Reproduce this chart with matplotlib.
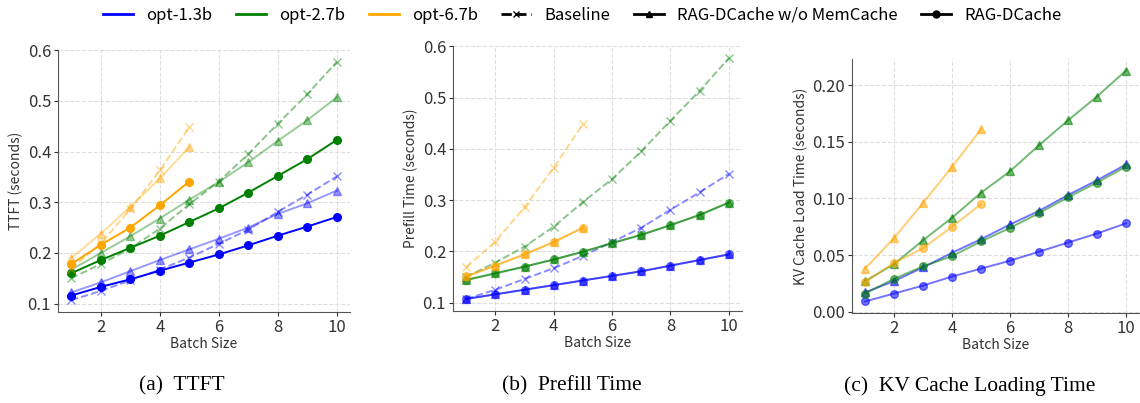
import matplotlib.pyplot as plt
from matplotlib.lines import Line2D

plt.rcParams['font.family'] = ['Noto Sans CJK KR', 'DejaVu Sans']

batch = [1, 2, 3, 4, 5, 6, 7, 8, 9, 10]
models = ["opt-1.3b", "opt-2.7b", "opt-6.7b"]
colors = ["blue", "green", "orange"]

# TTFT (seconds)
ttft_dcache = {
    "opt-1.3b": [0.116, 0.133, 0.148, 0.165, 0.181, 0.197, 0.215, 0.234, 0.252, 0.271],
    "opt-2.7b": [0.160, 0.186, 0.210, 0.234, 0.261, 0.288, 0.319, 0.352, 0.385, 0.423],
    "opt-6.7b": [0.178, 0.216, 0.250, 0.294, 0.341],
}
ttft_nomem = {
    "opt-1.3b": [0.122, 0.142, 0.164, 0.186, 0.207, 0.228, 0.250, 0.277, 0.298, 0.323],
    "opt-2.7b": [0.167, 0.200, 0.233, 0.268, 0.305, 0.340, 0.379, 0.421, 0.462, 0.507],
    "opt-6.7b": [0.190, 0.238, 0.291, 0.347, 0.409],
}
baseline = {
    "opt-1.3b": [0.107, 0.125, 0.146, 0.167, 0.191, 0.218, 0.246, 0.281, 0.315, 0.351],
    "opt-2.7b": [0.150, 0.178, 0.209, 0.248, 0.296, 0.341, 0.395, 0.455, 0.513, 0.577],
    "opt-6.7b": [0.169, 0.219, 0.286, 0.363, 0.448],
}

# Prefill time (seconds), same with and without MemCache
prefill = {
    "opt-1.3b": [0.107, 0.116, 0.125, 0.134, 0.143, 0.152, 0.161, 0.172, 0.183, 0.194],
    "opt-2.7b": [0.144, 0.157, 0.170, 0.184, 0.199, 0.216, 0.232, 0.251, 0.271, 0.295],
    "opt-6.7b": [0.151, 0.172, 0.194, 0.218, 0.246],
}

# KV cache load time (seconds)
kv_dcache = {
    "opt-1.3b": [0.009, 0.016, 0.023, 0.031, 0.038, 0.045, 0.053, 0.061, 0.069, 0.078],
    "opt-2.7b": [0.016, 0.029, 0.040, 0.049, 0.062, 0.074, 0.087, 0.101, 0.114, 0.128],
    "opt-6.7b": [0.026, 0.043, 0.056, 0.075, 0.095],
}
kv_nomem = {
    "opt-1.3b": [0.017, 0.027, 0.039, 0.052, 0.064, 0.077, 0.089, 0.103, 0.116, 0.130],
    "opt-2.7b": [0.027, 0.042, 0.063, 0.083, 0.105, 0.124, 0.147, 0.169, 0.190, 0.213],
    "opt-6.7b": [0.038, 0.065, 0.096, 0.128, 0.161],
}

W, H = 1140, 403
fig = plt.figure(figsize=(W / 100, H / 100), dpi=100)


def px_axes(left, top, right, bottom):
    return fig.add_axes([left / W, 1 - bottom / H, (right - left) / W, (bottom - top) / H])


def style(ax, ylabel):
    for s in ["top", "right"]:
        ax.spines[s].set_visible(False)
    for s in ["left", "bottom"]:
        ax.spines[s].set_color("#555555")
    ax.grid(True, linestyle="--", color="#dddddd", linewidth=0.8)
    ax.set_axisbelow(True)
    ax.set_xticks([2, 4, 6, 8, 10])
    ax.tick_params(labelsize=12, colors="#333333", length=3, pad=2)
    ax.set_xlabel("Batch Size", fontsize=10, color="#333333", labelpad=1)
    ax.set_ylabel(ylabel, fontsize=10, color="#333333", labelpad=3)


lw = 1.4
ms = 5.5

# (a) TTFT
ax1 = px_axes(58, 50, 350, 312)
for m, c in zip(models, colors):
    x = batch[:len(ttft_dcache[m])]
    ax1.plot(x, baseline[m], "--x", color=c, alpha=0.45, lw=lw, ms=ms)
    ax1.plot(x, ttft_nomem[m], "-^", color=c, alpha=0.4, lw=lw, ms=ms)
    ax1.plot(x, ttft_dcache[m], "-o", color=c, alpha=1.0, lw=lw, ms=ms)
ax1.set_yticks([0.1, 0.2, 0.3, 0.4, 0.5, 0.6])
style(ax1, "TTFT (seconds)")

# (b) Prefill time
ax2 = px_axes(453, 46, 742, 311)
for m, c in zip(models, colors):
    x = batch[:len(prefill[m])]
    ax2.plot(x, baseline[m], "--x", color=c, alpha=0.45, lw=lw, ms=ms)
    ax2.plot(x, prefill[m], "-^", color=c, alpha=0.5, lw=lw, ms=ms)
    ax2.plot(x, prefill[m], "-o", color=c, alpha=0.5, lw=lw, ms=ms)
ax2.set_yticks([0.1, 0.2, 0.3, 0.4, 0.5, 0.6])
style(ax2, "Prefill Time (seconds)")

# (c) KV cache load time
ax3 = px_axes(852, 59, 1139, 313)
for m, c in zip(models, colors):
    x = batch[:len(kv_dcache[m])]
    ax3.plot(x, kv_nomem[m], "-^", color=c, alpha=0.55, lw=lw, ms=ms)
    ax3.plot(x, kv_dcache[m], "-o", color=c, alpha=0.55, lw=lw, ms=ms)
ax3.set_yticks([0.0, 0.05, 0.10, 0.15, 0.20])
ax3.set_yticklabels(["0.00", "0.05", "0.10", "0.15", "0.20"])
style(ax3, "KV Cache Load Time (seconds)")

# shared legend
handles = [Line2D([], [], color=c, lw=2) for c in colors]
handles += [
    Line2D([], [], color="black", ls="--", marker="x", lw=2, ms=5),
    Line2D([], [], color="black", ls="-", marker="^", lw=2, ms=5),
    Line2D([], [], color="black", ls="-", marker="o", lw=2, ms=5),
]
labels = models + ["Baseline", "RAG-DCache w/o MemCache", "RAG-DCache"]
fig.legend(handles, labels, loc="center", bbox_to_anchor=(0.511, 1 - 15 / H), ncol=6,
           frameon=False, fontsize=12, handlelength=1.8, columnspacing=1.4, handletextpad=0.8)

# sub-captions
for xc, txt in [(182, "(a)  TTFT"), (572, "(b)  Prefill Time"), (970, "(c)  KV Cache Loading Time")]:
    fig.text(xc / W, 1 - 386 / H, txt, ha="center", va="center", fontsize=15.5,
             family="Liberation Serif")

fig.savefig("out.png", dpi=100)
